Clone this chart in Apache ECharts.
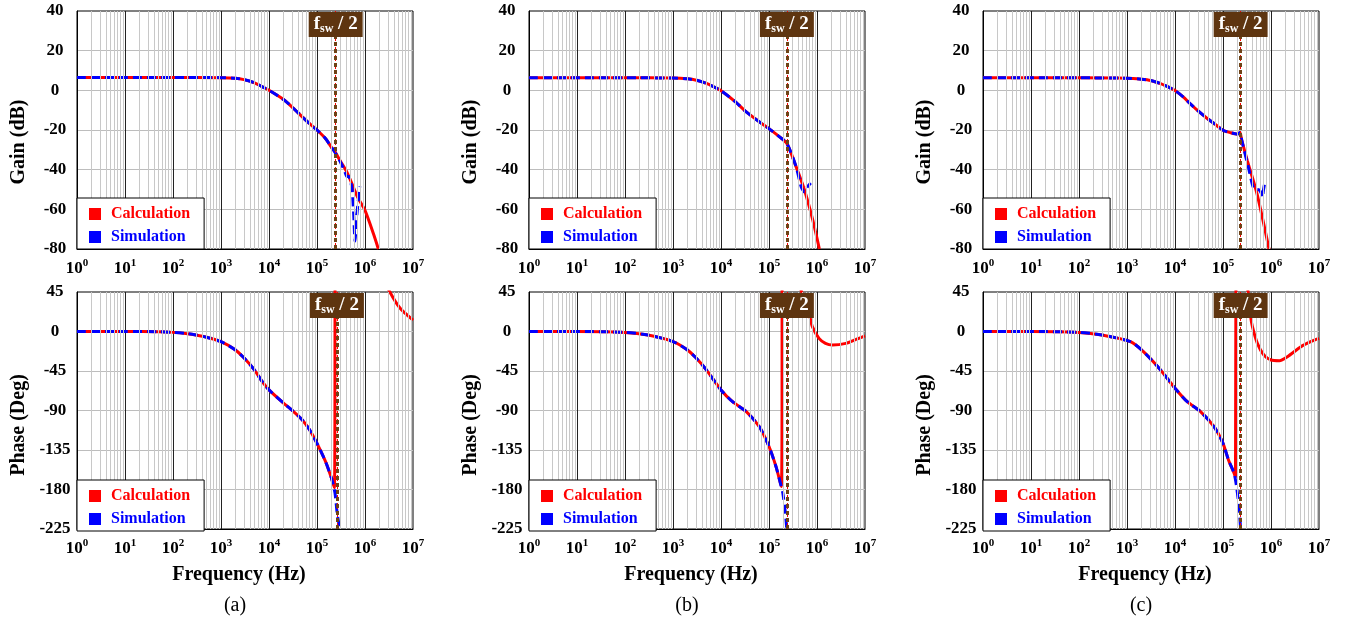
<!DOCTYPE html>
<html>
<head>
<meta charset="utf-8">
<script src="https://cdn.jsdelivr.net/npm/echarts@6/dist/echarts.min.js"></script>
<style>
  html, body { margin: 0; padding: 0; background: #fff; }
  #chart { width: 1348px; height: 622px; }
</style>
</head>
<body>
<div id="chart"></div>
<script>
// ---------- Panel (a) ----------
const fGainCalcA = [1, 10, 100, 1000, 2000, 3000, 5000, 7000, 1e4, 2e4, 3e4, 5e4, 7e4, 1e5, 1.5e5, 2e5, 2.45e5, 3e5, 4e5, 5e5, 7e5, 1e6, 1.5e6, 1.9e6];
const gainCalcA  = [6.5, 6.5, 6.5, 6.4, 6.1, 5.4, 3.8, 2.0, 0, -4.6, -8.3, -13.5, -16.8, -20, -24.3, -28.7, -31.5, -35.3, -40.3, -45.4, -53.8, -60.5, -72.3, -80];
const fGainSimA  = [1, 10, 100, 1000, 2000, 3000, 5000, 7000, 1e4, 2e4, 3e4, 5e4, 7e4, 1e5, 1.5e5, 2e5, 2.45e5, 3.2e5, 3.8e5, 4.2e5, 4.6e5, 5.0e5, 5.4e5, 5.8e5, 6.2e5, 6.6e5, 7.2e5, 7.9e5];
const gainSimA   = [6.5, 6.5, 6.5, 6.4, 6.1, 5.4, 3.8, 2.0, 0, -4.6, -8.3, -13.5, -16.8, -20, -24.3, -28.7, -31.8, -37, -41, -43.5, -43.5, -46, -50, -62, -76, -66, -56, -48.5];
const fPhaseCalcA = [1, 10, 50, 100, 200, 300, 500, 1000, 2000, 3000, 5000, 7000, 1e4, 2e4, 3e4, 5e4, 7e4, 1e5, 1.5e5, 2e5, 2.3e5, 2.49e5, 5e5, 1e6, 2e6, 3.3e6, 5.4e6, 1e7];
const phaseCalcA  = [0, 0, -0.3, -1, -2.5, -4, -6.5, -11.6, -21, -30, -44, -56, -66.5, -81.5, -89.5, -101, -112, -127.4, -148, -167, -178, 180, 140, 105, 70, 45, 26.4, 13];
const fPhaseSimA  = [1, 10, 50, 100, 200, 300, 500, 1000, 2000, 3000, 5000, 7000, 1e4, 2e4, 3e4, 5e4, 7e4, 1e5, 1.5e5, 2e5, 2.37e5, 2.63e5, 3.0e5];
const phaseSimA   = [0, 0, -0.3, -1, -2.5, -4, -6.5, -11.6, -21, -30, -44, -56, -66.5, -81.5, -89.5, -101, -112, -127.4, -148, -167, -184, -207, -226];

// ---------- Panel (b) ----------
const fGainCalcB = [1, 10, 100, 1000, 2000, 3060, 5000, 7000, 1e4, 2e4, 3.36e4, 6.3e4, 1e5, 1.66e5, 2.36e5, 3.68e5, 5.5e5, 8.2e5, 1.12e6];
const gainCalcB  = [6.3, 6.3, 6.3, 6.2, 5.8, 5.1, 3.5, 1.8, -0.2, -5.8, -10.9, -15.9, -19.3, -23.5, -26.8, -38.6, -50.4, -65.6, -80];
const fGainSimB  = [1, 10, 100, 1000, 2000, 3060, 5000, 7000, 1e4, 2e4, 3.36e4, 6.3e4, 1e5, 1.66e5, 2.36e5, 3.68e5, 4.7e5, 5.5e5, 6.3e5, 7.4e5];
const gainSimB   = [6.3, 6.3, 6.3, 6.2, 5.8, 5.1, 3.5, 1.8, -0.2, -5.8, -10.9, -15.9, -19.3, -23.5, -26.8, -38.6, -48.7, -51.3, -48.7, -46.7];
const fPhaseCalcB = [1, 10, 100, 300, 1000, 2000, 3000, 5000, 1e4, 1.74e4, 3.36e4, 6.3e4, 1e5, 1.4e5, 1.8e5, 1.95e5, 4e5, 7.1e5, 8e5, 1.1e6, 1.5e6, 2.1e6, 4e6, 6.5e6, 1e7];
const phaseCalcB  = [0, 0, -1, -4, -11.5, -21, -30, -44, -66.6, -80, -91.3, -108.5, -131, -154, -176.7, 180, 60, 17, 5.5, -7.8, -13.5, -15.4, -13.5, -9, -5];
const fPhaseSimB  = [1, 10, 100, 300, 1000, 2000, 3000, 5000, 1e4, 1.74e4, 3.36e4, 6.3e4, 1e5, 1.4e5, 1.8e5, 1.94e5, 2.2e5, 2.34e5];
const phaseSimB   = [0, 0, -1, -4, -11.5, -21, -30, -44, -66.6, -80, -91.3, -108.5, -131, -154, -176.7, -184, -207, -225];

// ---------- Panel (c) ----------
const fGainCalcC = [1, 10, 100, 1000, 2000, 3100, 5000, 7000, 1e4, 1.5e4, 2e4, 2.9e4, 4.7e4, 6.5e4, 1e5, 1.45e5, 2e5, 2.25e5, 2.45e5, 3.2e5, 5.1e5, 9.1e5];
const gainCalcC  = [6.3, 6.3, 6.3, 6.1, 5.6, 5.0, 3.4, 1.9, -0.1, -3.4, -6.4, -10, -14.2, -16.7, -20.1, -21.4, -22.1, -21.3, -25, -35.3, -52.1, -80];
const fGainSimC  = [1, 10, 100, 1000, 2000, 3100, 5000, 7000, 1e4, 1.5e4, 2e4, 2.9e4, 4.7e4, 6.5e4, 1e5, 1.45e5, 2e5, 2.25e5, 2.45e5, 3.5e5, 4.4e5, 5.6e5, 6.3e5, 6.6e5, 7.0e5, 7.4e5];
const gainSimC   = [6.3, 6.3, 6.3, 6.1, 5.6, 5.0, 3.4, 1.9, -0.1, -3.4, -6.4, -10, -14.2, -16.7, -20.1, -21.4, -22.1, -21.3, -25, -40.3, -49.6, -50.1, -52, -54, -50, -46.7];
const fPhaseCalcC = [1, 10, 100, 300, 1180, 2200, 5000, 1e4, 1.8e4, 3.4e4, 6.5e4, 1e5, 1.3e5, 1.7e5, 1.82e5, 1.9e5, 3e5, 3.77e5, 4.1e5, 5.2e5, 7.1e5, 1e6, 1.5e6, 2.2e6, 4.2e6, 6.7e6, 1e7];
const phaseCalcC  = [0, 0, -1, -4, -11.6, -23, -43.8, -64.7, -80, -91.3, -108.5, -127.4, -146.3, -161.5, -166, 180, 70, 17, 5.5, -13.5, -26.8, -32.5, -33.2, -28.7, -17.3, -11.6, -7.8];
const fPhaseSimC  = [1, 10, 100, 300, 1180, 2200, 5000, 1e4, 1.8e4, 3.4e4, 6.5e4, 1e5, 1.3e5, 1.7e5, 1.92e5, 2.15e5, 2.33e5];
const phaseSimC   = [0, 0, -1, -4, -11.6, -23, -43.8, -64.7, -80, -91.3, -108.5, -127.4, -146.3, -161.5, -177, -199.5, -225];

// Half switching frequency marker (Hz) for each gain / phase plot
const fswHalfGain  = [2.45e5, 2.36e5, 2.33e5];
const fswHalfPhase = [2.6e5, 2.36e5, 2.33e5];

const panelTags = ['(a)', '(b)', '(c)'];
const legendNames = ['Calculation', 'Simulation'];

const zip = (xs, ys) => xs.map((x, i) => [x, ys[i]]);

const panels = [
  { gainCalc: zip(fGainCalcA, gainCalcA), gainSim: zip(fGainSimA, gainSimA),
    phaseCalc: zip(fPhaseCalcA, phaseCalcA), phaseSim: zip(fPhaseSimA, phaseSimA) },
  { gainCalc: zip(fGainCalcB, gainCalcB), gainSim: zip(fGainSimB, gainSimB),
    phaseCalc: zip(fPhaseCalcB, phaseCalcB), phaseSim: zip(fPhaseSimB, phaseSimB) },
  { gainCalc: zip(fGainCalcC, gainCalcC), gainSim: zip(fGainSimC, gainSimC),
    phaseCalc: zip(fPhaseCalcC, phaseCalcC), phaseSim: zip(fPhaseSimC, phaseSimC) }
];

// ---------- styling / layout ----------
const FONT = '"Liberation Serif", "Times New Roman", serif';
const RED = '#ff0000';
const BLUE = '#0000ff';
const BROWN_BOX = '#5e3510';
const BROWN_LINE = '#6e4216';
const LEFTS = [77, 529, 983];
const PLOT_W = 336;
const ROWS = [
  { top: 11,  height: 238, min: -80,  max: 40, interval: 20, title: 'Gain (dB)',   titleY: 142, legendTop: 198 },
  { top: 292, height: 237, min: -225, max: 45, interval: 45, title: 'Phase (Deg)', titleY: 425, legendTop: 480 }
];

// light grid lines at 2..9 within every decade
const minorFreqs = [];
for (let n = 0; n < 7; n++) {
  for (let k = 2; k <= 9; k++) minorFreqs.push(k * Math.pow(10, n));
}

const grid = [], xAxis = [], yAxis = [], series = [], legend = [], graphic = [];

panels.forEach((panel, p) => {
  ROWS.forEach((row, r) => {
    const idx = p * 2 + r;
    grid.push({
      left: LEFTS[p], top: row.top, width: PLOT_W, height: row.height,
      show: true, borderColor: '#000', borderWidth: 1, backgroundColor: '#fff'
    });
    xAxis.push({
      type: 'log', logBase: 10, min: 1, max: 1e7, splitNumber: 7, gridIndex: idx,
      axisLine: { show: true, onZero: false, lineStyle: { color: '#000', width: 1 } },
      axisTick: { show: false },
      splitLine: { show: true, showMinLine: false, showMaxLine: false, lineStyle: { color: '#222', width: 1 } },
      axisLabel: {
        margin: 9,
        formatter: v => '{b|10}{s|' + Math.round(Math.log10(v)) + '}',
        rich: {
          b: { fontFamily: FONT, fontWeight: 'bold', fontSize: 17, color: '#000', lineHeight: 19, verticalAlign: 'bottom' },
          s: { fontFamily: FONT, fontWeight: 'bold', fontSize: 11, color: '#000', lineHeight: 11, verticalAlign: 'top' }
        }
      }
    });
    yAxis.push({
      type: 'value', min: row.min, max: row.max, interval: row.interval, gridIndex: idx,
      axisLine: { show: true, onZero: false, lineStyle: { color: '#000', width: 1 } },
      axisTick: { show: false },
      splitLine: { show: true, showMinLine: false, showMaxLine: false, lineStyle: { color: '#bdbdbd', width: 1 } },
      axisLabel: { margin: 22, align: 'center', fontFamily: FONT, fontWeight: 'bold', fontSize: 17, color: '#000' }
    });

    const calc = r === 0 ? panel.gainCalc : panel.phaseCalc;
    const sim = r === 0 ? panel.gainSim : panel.phaseSim;
    const fsw = r === 0 ? fswHalfGain[p] : fswHalfPhase[p];

    // minor vertical grid
    series.push({
      type: 'line', xAxisIndex: idx, yAxisIndex: idx, data: [], z: 1, silent: true,
      markLine: {
        silent: true, symbol: 'none', animation: false, label: { show: false },
        lineStyle: { color: '#c8c8c8', width: 1, type: 'solid' },
        data: minorFreqs.map(f => ({ xAxis: f }))
      }
    });
    series.push({
      name: 'Calculation', type: 'line', xAxisIndex: idx, yAxisIndex: idx, data: calc,
      symbol: 'none', smooth: 0.25, z: 3, clip: true,
      lineStyle: { color: RED, width: 3 }, itemStyle: { color: RED }
    });
    series.push({
      name: 'Simulation', type: 'line', xAxisIndex: idx, yAxisIndex: idx, data: sim,
      symbol: 'none', smooth: 0.25, z: 4, clip: true,
      lineStyle: { color: BLUE, width: 3, type: [9, 5] }, itemStyle: { color: BLUE }
    });
    // f_sw / 2 marker: dotted vertical line ...
    series.push({
      type: 'line', xAxisIndex: idx, yAxisIndex: idx, data: [], z: 6, silent: true,
      markLine: {
        silent: true, symbol: 'none', animation: false, label: { show: false },
        data: [
          { xAxis: fsw, lineStyle: { color: RED, width: 1, type: [2, 2] } },
          { xAxis: fsw, lineStyle: { color: BROWN_LINE, width: 3, type: [4, 3] } }
        ]
      }
    });
    // ... and its tag at the top of the plot, on its own layer above the curves
    series.push({
      type: 'scatter', xAxisIndex: idx, yAxisIndex: idx, data: [[fsw, row.max]],
      symbolSize: 0, zlevel: 1, z: 8, silent: true,
      itemStyle: { color: BROWN_BOX, opacity: 1 },
      emphasis: { disabled: true },
      label: {
        show: true, position: 'bottom', distance: 1, opacity: 1,
        backgroundColor: BROWN_BOX, padding: [2, 5, 2, 5],
        formatter: '{f|f}{s|sw}{f| / 2}',
        rich: {
          f: { fontFamily: FONT, fontWeight: 'bold', fontSize: 19, color: '#fff', lineHeight: 21 },
          s: { fontFamily: FONT, fontWeight: 'bold', fontSize: 12, color: '#fff', lineHeight: 12, verticalAlign: 'bottom' }
        }
      }
    });

    legend.push({
      left: LEFTS[p], top: row.legendTop, orient: 'vertical', z: 10,
      backgroundColor: '#fff', borderColor: '#000', borderWidth: 1,
      padding: [8, 14, 4, 12], itemGap: 7, itemWidth: 12, itemHeight: 12, icon: 'rect',
      selectedMode: false,
      textStyle: { fontFamily: FONT, fontWeight: 'bold', fontSize: 16, padding: [0, 0, 0, 5] },
      data: [
        { name: legendNames[0], textStyle: { color: RED } },
        { name: legendNames[1], textStyle: { color: BLUE } }
      ]
    });

    graphic.push({
      type: 'text', x: LEFTS[p] - 58, y: row.titleY, rotation: Math.PI / 2,
      style: { text: row.title, font: 'bold 20px ' + FONT, fill: '#000', align: 'center', verticalAlign: 'middle' }
    });
  });

  graphic.push({
    type: 'text', x: LEFTS[p] + 162, y: 575,
    style: { text: 'Frequency (Hz)', font: 'bold 20px ' + FONT, fill: '#000', align: 'center', verticalAlign: 'middle' }
  });
  graphic.push({
    type: 'text', x: LEFTS[p] + 158, y: 606,
    style: { text: panelTags[p], font: '20px ' + FONT, fill: '#000', align: 'center', verticalAlign: 'middle' }
  });
});

const chart = echarts.init(document.getElementById('chart'), null, { renderer: 'canvas' });
chart.setOption({
  animation: false,
  backgroundColor: '#fff',
  grid, xAxis, yAxis, series, legend, graphic
});
</script>
</body>
</html>
